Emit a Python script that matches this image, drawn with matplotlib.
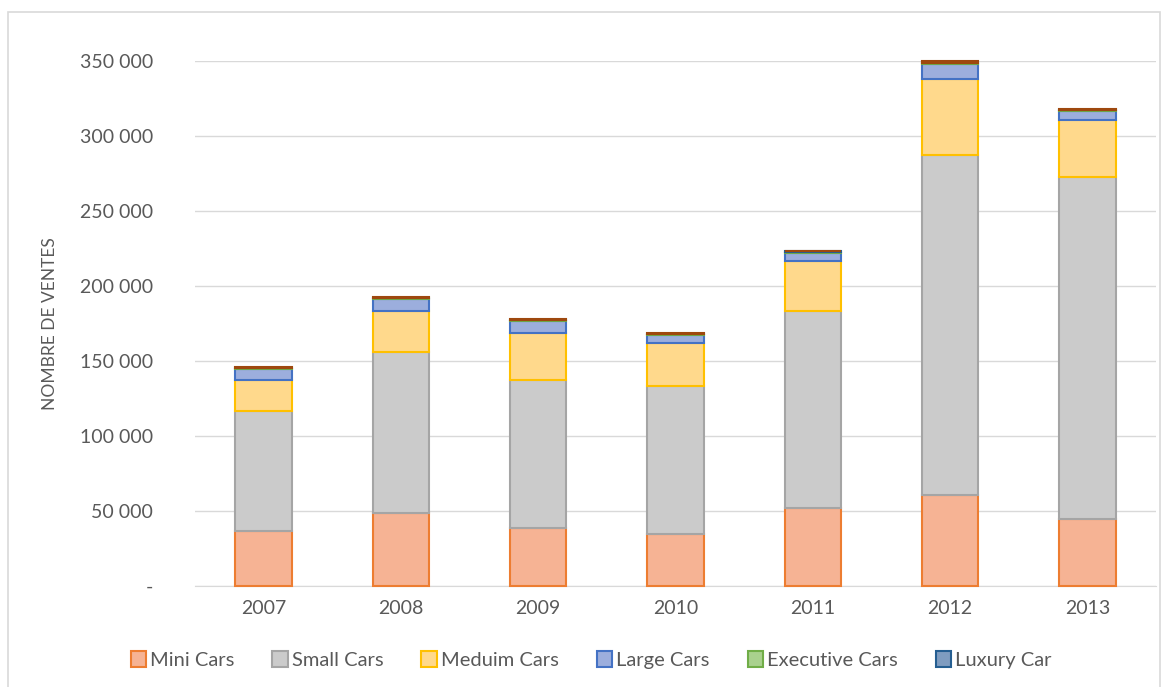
import numpy as np
import matplotlib
matplotlib.use("Agg")
import matplotlib.pyplot as plt
from matplotlib.patches import Rectangle
from matplotlib.ticker import FuncFormatter

years = ["2007", "2008", "2009", "2010", "2011", "2012", "2013"]
mini = [36500, 48500, 38500, 34500, 51800, 61000, 45000]
small = [80000, 107300, 98600, 98600, 131300, 226200, 227600]
medium = [20600, 27300, 31400, 28700, 33400, 50500, 38400]
large = [7800, 8500, 8400, 5800, 5800, 10500, 5800]
executive = [300, 300, 200, 200, 400, 400, 400]
luxury = [100, 100, 100, 100, 800, 200, 100]
other = [600, 800, 900, 800, 0, 900, 1000]

series = [
    ("Mini Cars", mini, "#F6B394", "#ED7D31"),
    ("Small Cars", small, "#CBCBCB", "#A5A5A5"),
    ("Meduim Cars", medium, "#FFD98C", "#FFC000"),
    ("Large Cars", large, "#9CAEDD", "#4472C4"),
    ("Executive Cars", executive, "#A9D18E", "#70AD47"),
    ("Luxury Car", luxury, "#7F9CC0", "#255E91"),
    (None, other, "#B5652A", "#9E480E"),
]

plt.rcParams["font.family"] = ["Lato", "DejaVu Sans"]
txt = "#595959"

fig = plt.figure(figsize=(11.64, 6.87), dpi=100)
ax = fig.add_axes([195 / 1164, 1 - 586 / 687, 961 / 1164, 525 / 687])

x = np.arange(len(years))
bottom = np.zeros(len(years))
handles = []
for name, vals, fc, ec in series:
    vals = np.array(vals, float)
    b = ax.bar(x, vals, 0.41, bottom=bottom, color=fc, edgecolor=ec,
               linewidth=1.5, zorder=3, clip_on=False)
    if name:
        handles.append((b, name))
    bottom += vals

ax.set_xlim(-0.5, len(years) - 0.5)
ax.set_ylim(0, 350000)
ax.set_yticks(np.arange(0, 350001, 50000))
ax.yaxis.set_major_formatter(FuncFormatter(
    lambda v, p: "-" if v == 0 else f"{int(v):,}".replace(",", " ")))
ax.grid(axis="y", color="#D9D9D9", linewidth=1, zorder=0)
for s in ("top", "right", "left"):
    ax.spines[s].set_visible(False)
ax.spines["bottom"].set_color("#D9D9D9")
ax.tick_params(axis="both", length=0, labelsize=14, colors=txt)
ax.tick_params(axis="y", pad=30)
ax.tick_params(axis="x", pad=10)
ax.set_xticks(x)
ax.set_xticklabels(years)
ax.set_ylabel("NOMBRE DE VENTES", fontsize=12.5, color=txt, labelpad=16)

leg = fig.legend([h for h, _ in handles], [n for _, n in handles],
                 loc="center", bbox_to_anchor=(591 / 1164, 1 - 660 / 687),
                 ncol=6, frameon=False, fontsize=14.5, handlelength=0.75,
                 handleheight=0.8, handletextpad=0.2, columnspacing=1.9)
for t in leg.get_texts():
    t.set_color(txt)

fig.patches.append(Rectangle((8 / 1164, -0.01), 1152 / 1164, 1 - 12 / 687 + 0.01,
                             transform=fig.transFigure, fill=False,
                             edgecolor="#D9D9D9", linewidth=1.2))

fig.savefig("out.png", dpi=100)
